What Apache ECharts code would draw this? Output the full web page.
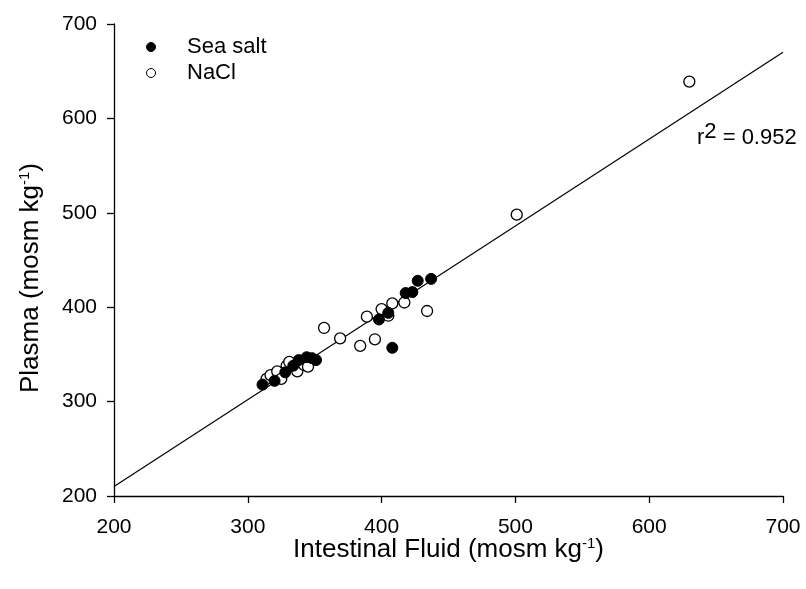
<!DOCTYPE html>
<html>
<head>
<meta charset="utf-8">
<script src="https://cdn.jsdelivr.net/npm/echarts@6/dist/echarts.min.js"></script>
<style>
  html, body { margin: 0; padding: 0; background: #fff; }
  #main { width: 806px; height: 589px; }
</style>
</head>
<body>
<div id="main"></div>
<script>
// values: [intestinal fluid, plasma]
var seaSalt = [
  [311, 318], [320, 322], [328, 331], [334, 338], [338, 344], [344, 347],
  [348, 346], [351, 344], [398, 387], [405, 394], [408, 357], [418, 415],
  [423, 416], [427, 428], [437, 430]
];
var nacl = [
  [314, 324], [317, 328], [322, 332], [325, 324], [329, 338], [331, 342],
  [337, 332], [342, 339], [345, 337], [357, 378], [369, 367], [384, 359],
  [389, 390], [395, 366], [400, 398], [405, 391], [408, 404], [417, 405],
  [434, 396], [501, 498], [630, 639]
];
// regression line end points
var fitLine = [[200, 210], [700, 670]];
var rSquared = '0.952';
var axisTicks = { min: 200, max: 700, interval: 100 };

var chart = echarts.init(document.getElementById('main'));
var font = 'Liberation Sans, Arial, sans-serif';

var titleRich = {
  n: { fontFamily: font, fontSize: 26, color: '#000' },
  s: { fontFamily: font, fontSize: 15, color: '#000', verticalAlign: 'top', padding: [0, 0, 12, 0] }
};

var option = {
  backgroundColor: '#ffffff',
  animation: false,
  grid: { left: 114, right: 23, top: 24, bottom: 93 },
  legend: {
    orient: 'vertical',
    left: 141,
    top: 31,
    itemGap: 4,
    itemWidth: 12,
    itemHeight: 9,
    textStyle: { fontFamily: font, fontSize: 22, color: '#000', padding: [0, 0, 0, 25] },
    data: [
      { name: 'Sea salt', icon: 'circle', itemStyle: { color: '#000', borderColor: '#000', borderWidth: 1 } },
      { name: 'NaCl', icon: 'circle', itemStyle: { color: '#fff', borderColor: '#000', borderWidth: 1 } }
    ]
  },
  xAxis: {
    type: 'value',
    min: axisTicks.min, max: axisTicks.max, interval: axisTicks.interval,
    name: '{n|Intestinal Fluid (mosm kg}{s|-1}{n|)}',
    nameLocation: 'middle',
    nameGap: 40,
    nameMoveOverlap: false,
    nameTextStyle: { rich: titleRich },
    axisLine: { lineStyle: { color: '#000', width: 1.3 } },
    axisTick: { length: 7, lineStyle: { color: '#000', width: 1.3 } },
    axisLabel: { fontFamily: font, fontSize: 21, color: '#000', margin: 21 },
    splitLine: { show: false }
  },
  yAxis: {
    type: 'value',
    min: axisTicks.min, max: axisTicks.max, interval: axisTicks.interval,
    name: '{n|Plasma (mosm kg}{s|-1}{n|)}',
    nameLocation: 'middle',
    nameGap: 70,
    nameMoveOverlap: false,
    nameTextStyle: { rich: titleRich, padding: [0, 36, 0, 0] },
    axisLine: { show: true, lineStyle: { color: '#000', width: 1.3 } },
    axisTick: { show: true, length: 7, lineStyle: { color: '#000', width: 1.3 } },
    axisLabel: { fontFamily: font, fontSize: 21, color: '#000', margin: 17 },
    splitLine: { show: false }
  },
  graphic: [{
    type: 'text',
    left: 697,
    top: 121,
    style: {
      text: '{r|r}{s|2}{r| = ' + rSquared + '}',
      rich: {
        r: { fontFamily: font, fontSize: 22, fill: '#000' },
        s: { fontFamily: font, fontSize: 22, fill: '#000', verticalAlign: 'top', padding: [0, 0, 12, 0] }
      }
    }
  }],
  series: [
    {
      name: 'fit',
      type: 'line',
      data: fitLine,
      symbol: 'none',
      silent: true,
      lineStyle: { color: '#000', width: 1.2 },
      z: 1
    },
    {
      name: 'NaCl',
      type: 'scatter',
      data: nacl,
      symbol: 'circle',
      symbolSize: 11,
      itemStyle: { color: '#fff', borderColor: '#000', borderWidth: 1.3, opacity: 1 },
      z: 2
    },
    {
      name: 'Sea salt',
      type: 'scatter',
      data: seaSalt,
      symbol: 'circle',
      symbolSize: 11,
      itemStyle: { color: '#000', borderColor: '#000', borderWidth: 1, opacity: 1 },
      z: 3
    }
  ]
};

chart.setOption(option);
</script>
</body>
</html>
